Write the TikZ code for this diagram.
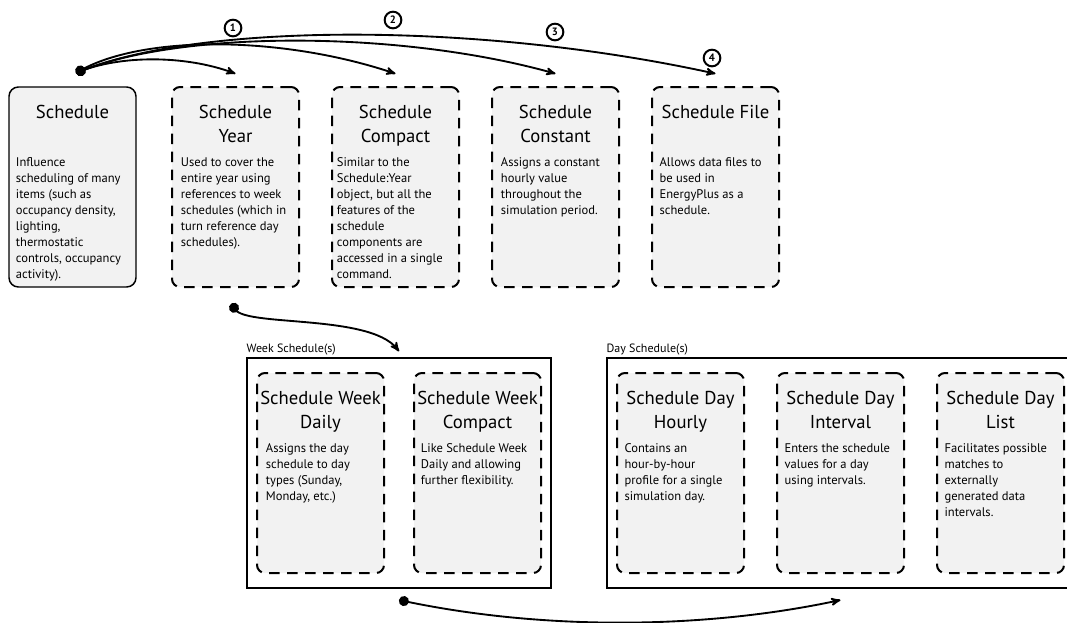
\documentclass[tikz,border=0pt]{standalone}
\usepackage{fontspec}
\setmainfont{PT Sans}
\usetikzlibrary{positioning}
\usetikzlibrary{arrows}
\usetikzlibrary{fit}
\tikzset{
card/.style={
  rectangle,rounded corners=6pt,
  inner sep=0pt,outer sep=0pt,
  minimum width=95.25pt,
  minimum height=150pt,
  anchor=north west,
  line width=1.5pt,
  dash pattern=on 8pt off 5.5pt,
  draw=black,
  fill=black!5
  },
root/.style={card,solid,line width=1.1pt,rounded corners=7pt},
ttl/.style={anchor=north,inner sep=0pt,align=center,font=\fontsize{14}{18}\selectfont},
txt/.style={anchor=north west,inner sep=0pt,align=left,font=\fontsize{9.4}{12}\selectfont},
grp/.style={rectangle,draw=black,line width=2pt,inner xsep=7.5pt,inner ysep=11.25pt},
grplbl/.style={anchor=base west,inner sep=0pt,font=\fontsize{9}{11}\selectfont},
num/.style={
  circle,
  draw=black,
  line width=1.5pt,
  inner sep=0pt,
  minimum size=12.5pt,
  font=\bfseries\fontsize{8}{8}\selectfont
  }
}

\begin{document}
\begin{tikzpicture}[x=0.75pt,y=-0.75pt,>=stealth',line width=1.4pt]
    \useasboundingbox (0,0) rectangle (1067,622);
    % top row
    \node[root] (sch) at (9,87) {};
    \node[card] (yr)  [right=27pt of sch] {};
    \node[card] (cmp) [right=24.75pt of yr] {};
    \node[card] (cst) [right=24.75pt of cmp] {};
    \node[card] (fil) [right=24.75pt of cst] {};
    \node[ttl] (sch-t) [below=13pt of sch.north] {Schedule};
    \node[ttl] (yr-t)  [below=13pt of yr.north] {Schedule\\Year};
    \node[ttl] (cmp-t) [below=13pt of cmp.north] {Schedule\\Compact};
    \node[ttl] (cst-t) [below=13pt of cst.north] {Schedule\\Constant};
    \node[ttl] (fil-t) [below=13pt of fil.north] {Schedule File};
    \node[txt] (sch-b) [below right=52pt and 4.5pt of sch.north west] {Influence\\scheduling of many\\items (such as\\occupancy density,\\lighting,\\thermostatic\\controls, occupancy\\activity).};
    \node[txt] (yr-b)  [below right=52pt and 6pt of yr.north west] {Used to cover the\\entire year using\\references to week\\schedules (which in\\turn reference day\\schedules).};
    \node[txt] (cmp-b) [below right=52pt and 3pt of cmp.north west] {Similar to the\\Schedule:Year\\object, but all the\\features of the\\schedule\\components are\\accessed in a single\\command.};
    \node[txt] (cst-b) [below right=52pt and 6pt of cst.north west] {Assigns a constant\\hourly value\\throughout the\\simulation period.};
    \node[txt] (fil-b) [below right=52pt and 5pt of fil.north west] {Allows data files to\\be used in\\EnergyPlus as a\\schedule.};

    % week schedules
    \node[card] (wd) at (257,373) {};
    \node[card] (wc) [right=22.5pt of wd] {};
    \node[ttl] (wd-t) [below=13pt of wd.north] {Schedule Week\\Daily};
    \node[ttl] (wc-t) [below=13pt of wc.north] {Schedule Week\\Compact};
    \node[txt] (wd-b) [below right=52pt and 6pt of wd.north west] {Assigns the day\\schedule to day\\types (Sunday,\\Monday, etc.)};
    \node[txt] (wc-b) [below right=52pt and 4.5pt of wc.north west] {Like Schedule Week\\Daily and allowing\\further flexibility.};
    \node[grp,fit=(wd)(wc)] (wgrp) {};
    \node[grplbl] (wgrp-l) at ([yshift=3pt]wgrp.north west) {Week Schedule(s)};

    % day schedules
    \node[card] (dh) at (617,373) {};
    \node[card] (di) [right=24.75pt of dh] {};
    \node[card] (dl) [right=24.75pt of di] {};
    \node[ttl] (dh-t) [below=13pt of dh.north] {Schedule Day\\Hourly};
    \node[ttl] (di-t) [below=13pt of di.north] {Schedule Day\\Interval};
    \node[ttl] (dl-t) [below=13pt of dl.north] {Schedule Day\\List};
    \node[txt] (dh-b) [below right=52pt and 5pt of dh.north west] {Contains an\\hour-by-hour\\profile for a single\\simulation day.};
    \node[txt] (di-b) [below right=52pt and 5pt of di.north west] {Enters the schedule\\values for a day\\using intervals.};
    \node[txt] (dl-b) [below right=52pt and 5pt of dl.north west] {Facilitates possible\\matches to\\externally\\generated data\\intervals.};
    \node[grp,fit=(dh)(dl)] (dgrp) {};
    \node[grplbl] (dgrp-l) at ([yshift=3pt]dgrp.north west) {Day Schedule(s)};

    % connectors
    \coordinate (src) at (76,73);
    \draw[*->] (src) .. controls (120,55) and (185,55) .. ([yshift=10pt]yr.north);
    \draw[*->] (src) .. controls (140,35) and (280,35) .. ([yshift=10pt]cmp.north);
    \draw[*->] (src) .. controls (180,30) and (400,30) .. ([yshift=10pt]cst.north);
    \draw[*->] (src) .. controls (200,22) and (480,22) .. ([yshift=10pt]fil.north);
    \node[num] (n1) at (233,28) {1};
    \node[num] (n2) at (393,20) {2};
    \node[num] (n3) at (555,32) {3};
    \node[num] (n4) at (712,58) {4};
    \draw[*->] ([yshift=-12pt]yr.south) .. controls +(-8,26) and +(-30,-40) .. ([yshift=4pt]wgrp.north);
    \draw[*->] ([yshift=-8pt]wgrp.south) .. controls +(140,30) and +(-140,30) .. ([yshift=-8pt]dgrp.south);
\end{tikzpicture}
\end{document}
